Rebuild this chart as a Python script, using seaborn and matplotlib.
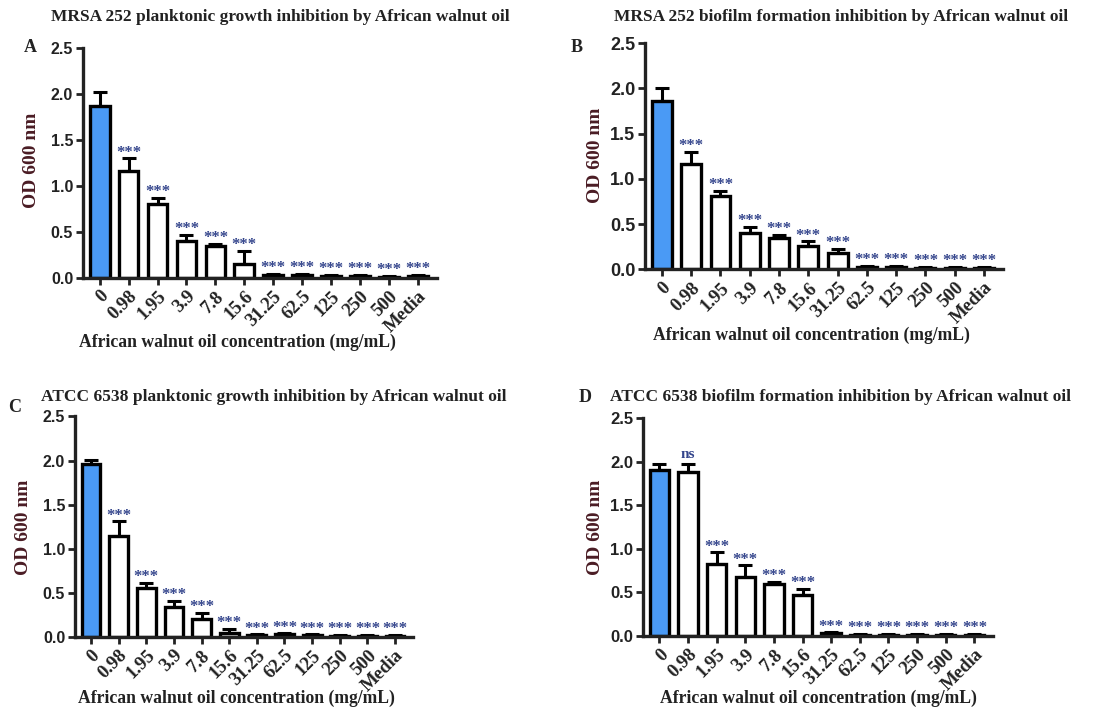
import seaborn as sns
import pandas as pd
import matplotlib.pyplot as plt

concentrations = ["0", "0.98", "1.95", "3.9", "7.8", "15.6", "31.25", "62.5", "125", "250", "500", "Media"]

mrsa_plank_mean = [1.87, 1.16, 0.81, 0.40, 0.35, 0.15, 0.03, 0.03, 0.02, 0.02, 0.01, 0.02]
mrsa_plank_err = [0.15, 0.14, 0.06, 0.07, 0.02, 0.14, 0.01, 0.01, 0.01, 0.01, 0.01, 0.01]
mrsa_plank_sig = [""] + ["***"] * 11

mrsa_bio_mean = [1.86, 1.16, 0.81, 0.40, 0.35, 0.26, 0.18, 0.03, 0.03, 0.02, 0.02, 0.02]
mrsa_bio_err = [0.15, 0.14, 0.06, 0.07, 0.03, 0.05, 0.05, 0.01, 0.01, 0.01, 0.01, 0.01]
mrsa_bio_sig = [""] + ["***"] * 11

atcc_plank_mean = [1.96, 1.15, 0.56, 0.34, 0.20, 0.05, 0.02, 0.03, 0.02, 0.01, 0.01, 0.01]
atcc_plank_err = [0.05, 0.16, 0.05, 0.07, 0.07, 0.04, 0.01, 0.01, 0.01, 0.01, 0.01, 0.01]
atcc_plank_sig = [""] + ["***"] * 11

atcc_bio_mean = [1.91, 1.88, 0.83, 0.68, 0.60, 0.47, 0.03, 0.01, 0.01, 0.01, 0.01, 0.01]
atcc_bio_err = [0.06, 0.09, 0.13, 0.13, 0.02, 0.07, 0.01, 0.01, 0.01, 0.01, 0.01, 0.01]
atcc_bio_sig = ["", "ns"] + ["***"] * 10

sns.set_style("ticks")
plt.rcParams["font.family"] = ["Liberation Serif", "DejaVu Serif"]

fig = plt.figure(figsize=(11.12, 7.09), dpi=100)

# letter, title, data, axes rect, title/letter/xlabel/ylabel pixel positions, ytick size
panels = [
    ("A", "MRSA 252 planktonic growth inhibition by African walnut oil",
     mrsa_plank_mean, mrsa_plank_err, mrsa_plank_sig,
     [0.0746, 0.608, 0.318, 0.324], (280, 17), (30, 48), (237, 342), (32, 160), 11.5),
    ("B", "MRSA 252 biofilm formation inhibition by African walnut oil",
     mrsa_bio_mean, mrsa_bio_err, mrsa_bio_sig,
     [0.580, 0.620, 0.322, 0.319], (841, 17), (577, 48), (811, 335), (596, 155), 13),
    ("C", "ATCC 6538 planktonic growth inhibition by African walnut oil",
     atcc_plank_mean, atcc_plank_err, atcc_plank_sig,
     [0.0674, 0.1016, 0.304, 0.311], (274, 397), (15, 408), (236, 698), (24, 527), 11.5),
    ("D", "ATCC 6538 biofilm formation inhibition by African walnut oil",
     atcc_bio_mean, atcc_bio_err, atcc_bio_sig,
     [0.578, 0.103, 0.315, 0.307], (841, 397), (585, 397), (818, 698), (596, 527), 12),
]

W, H = 1112.0, 709.0
star_color = "#34458c"
ylab_color = "#4a1c24"
text_color = "#222222"

for letter, title, means, errs, sigs, rect, tpos, lpos, xlpos, ylpos, ytsize in panels:
    ax = fig.add_axes(rect)
    df = pd.DataFrame({"conc": concentrations, "od": means})
    colors = ["#4a9af5"] + ["white"] * (len(means) - 1)
    sns.barplot(data=df, x="conc", y="od", hue="conc", palette=colors, legend=False,
                width=0.68, edgecolor="black", linewidth=2.4, ax=ax, errorbar=None,
                saturation=1)
    ax.errorbar(range(len(means)), means, yerr=[[0] * len(means), errs], fmt="none",
                ecolor="black", elinewidth=2.2, capsize=5, capthick=2.2)
    for i, (m, e, s) in enumerate(zip(means, errs, sigs)):
        if s == "***":
            ax.text(i, m + e + 0.02, s, ha="center", va="baseline", fontsize=12,
                    color=star_color, fontweight="bold")
        elif s:
            ax.text(i, m + e + 0.07, s, ha="center", va="baseline", fontsize=11,
                    color=star_color, fontweight="bold")
    ax.set_ylim(0, 2.5)
    ax.set_xlim(-0.58, 11.65)
    ax.set_yticks([0, 0.5, 1.0, 1.5, 2.0, 2.5])
    ax.set_yticklabels(["0.0", "0.5", "1.0", "1.5", "2.0", "2.5"], family="Liberation Sans",
                       fontweight="bold", fontsize=ytsize, color=text_color)
    ax.set_xticks(range(len(concentrations)))
    ax.set_xticklabels(concentrations, rotation=45, ha="right", rotation_mode="anchor",
                       fontweight="bold", fontsize=13.5, color=text_color)
    ax.set_xlabel("")
    ax.set_ylabel("")
    ax.tick_params(axis="both", width=2, length=5, color=text_color, pad=2)
    for side in ["left", "bottom"]:
        ax.spines[side].set_linewidth(2.4)
        ax.spines[side].set_color(text_color)
    sns.despine(ax=ax)

    fig.text(tpos[0] / W, 1 - tpos[1] / H, title, ha="center", va="center",
             fontsize=12.5, fontweight="bold", color=text_color)
    fig.text(lpos[0] / W, 1 - lpos[1] / H, letter, ha="center", va="center",
             fontsize=13, fontweight="bold", color=text_color)
    fig.text(xlpos[0] / W, 1 - xlpos[1] / H, "African walnut oil concentration (mg/mL)",
             ha="center", va="center", fontsize=12.7, fontweight="bold", color=text_color)
    fig.text(ylpos[0] / W, 1 - ylpos[1] / H, "OD 600 nm", ha="center", va="center",
             rotation=90, fontsize=14, fontweight="bold", color=ylab_color)

fig.savefig("out.png", dpi=100)
